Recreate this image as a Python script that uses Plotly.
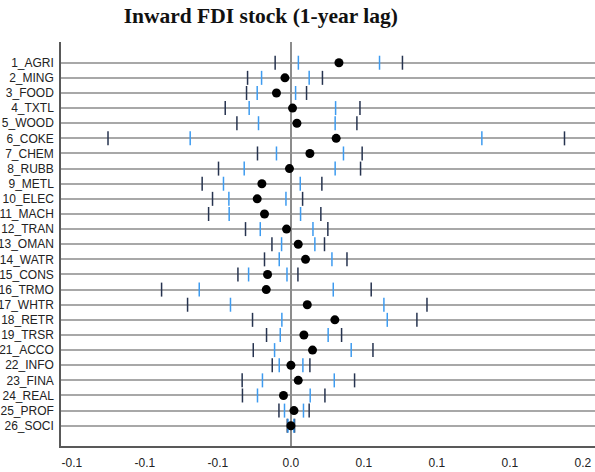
import plotly.graph_objects as go

categories = ["1_AGRI", "2_MING", "3_FOOD", "4_TXTL", "5_WOOD", "6_COKE", "7_CHEM", "8_RUBB",
              "9_METL", "10_ELEC", "11_MACH", "12_TRAN", "13_OMAN", "14_WATR", "15_CONS",
              "16_TRMO", "17_WHTR", "18_RETR", "19_TRSR", "21_ACCO", "22_INFO", "23_FINA",
              "24_REAL", "25_PROF", "26_SOCI"]
estimate = [0.0329, -0.0041, -0.0099, 0.0011, 0.0041, 0.0310, 0.0130, -0.0010,
            -0.0199, -0.0231, -0.0181, -0.0030, 0.0050, 0.0100, -0.0160,
            -0.0169, 0.0112, 0.0301, 0.0089, 0.0148, 0.0000, 0.0050,
            -0.0051, 0.0021, 0.0000]
ci90_low = [0.0051, -0.0201, -0.0231, -0.0286, -0.0222, -0.0690, -0.0099, -0.0320,
            -0.0462, -0.0425, -0.0423, -0.0210, -0.0064, -0.0080, -0.0290,
            -0.0628, -0.0414, -0.0062, -0.0073, -0.0112, -0.0080, -0.0195,
            -0.0229, -0.0044, -0.0020]
ci90_high = [0.0607, 0.0125, 0.0032, 0.0306, 0.0303, 0.1308, 0.0360, 0.0303,
             0.0064, -0.0034, 0.0066, 0.0151, 0.0164, 0.0281, -0.0027,
             0.0290, 0.0637, 0.0660, 0.0255, 0.0413, 0.0082, 0.0297,
             0.0132, 0.0086, 0.0020]
ci95_low = [-0.0108, -0.0297, -0.0304, -0.0450, -0.0370, -0.1253, -0.0229, -0.0496,
            -0.0608, -0.0537, -0.0564, -0.0311, -0.0130, -0.0181, -0.0363,
            -0.0886, -0.0708, -0.0263, -0.0167, -0.0258, -0.0128, -0.0334,
            -0.0332, -0.0082, -0.0025]
ci95_high = [0.0764, 0.0216, 0.0107, 0.0473, 0.0452, 0.1874, 0.0488, 0.0477,
             0.0212, 0.0080, 0.0205, 0.0253, 0.0230, 0.0384, 0.0048,
             0.0550, 0.0932, 0.0863, 0.0347, 0.0562, 0.0130, 0.0436,
             0.0233, 0.0125, 0.0025]
x_tickvals = [-0.15, -0.10, -0.05, 0.0, 0.05, 0.10, 0.15, 0.20]
x_ticktext = ["-0.1", "-0.1", "-0.1", "0.0", "0.1", "0.1", "0.1", "0.2"]

rows = list(range(len(categories)))
dark = "#26334F"
blue = "#3D9BF0"

fig = go.Figure()
tick_marker_dark = dict(symbol="line-ns", size=10, line=dict(color=dark, width=1.5))
tick_marker_blue = dict(symbol="line-ns", size=10, line=dict(color=blue, width=1.5))
fig.add_trace(go.Scatter(x=ci95_low, y=rows, mode="markers", marker=tick_marker_dark, hoverinfo="skip"))
fig.add_trace(go.Scatter(x=ci95_high, y=rows, mode="markers", marker=tick_marker_dark, hoverinfo="skip"))
fig.add_trace(go.Scatter(x=ci90_low, y=rows, mode="markers", marker=tick_marker_blue, hoverinfo="skip"))
fig.add_trace(go.Scatter(x=ci90_high, y=rows, mode="markers", marker=tick_marker_blue, hoverinfo="skip"))
fig.add_trace(go.Scatter(x=estimate, y=rows, mode="markers",
                         marker=dict(symbol="circle", size=9, color="black"),
                         customdata=categories, hovertemplate="%{customdata}: %{x:.3f}<extra></extra>"))

fig.update_layout(
    width=595, height=472,
    margin=dict(l=61, r=0, t=42, b=26),
    paper_bgcolor="white", plot_bgcolor="white",
    showlegend=False,
    title=dict(text="<b>Inward FDI stock (1-year lag)</b>", x=260.8 / 595, xanchor="center",
               y=1 - 15 / 472, yanchor="middle", automargin=False,
               font=dict(family="Liberation Serif", size=21.5, color="#111111")),
    font=dict(family="Liberation Sans", size=12, color="#222222"),
)
fig.update_xaxes(
    range=[-0.1575, 0.2083], tickvals=x_tickvals, ticktext=x_ticktext, automargin=False,
    showgrid=False, zeroline=True, zerolinecolor="#8C8C8C", zerolinewidth=2,
    showline=True, linecolor="#595959", linewidth=1.5, ticks="", ticklabelstandoff=5,
)
fig.update_yaxes(
    range=[25.34, -1.37], tickvals=rows, ticktext=categories, automargin=False,
    showgrid=True, gridcolor="#A8A8A8", gridwidth=1.5, zeroline=False,
    showline=True, linecolor="#595959", linewidth=1.5, ticks="", ticklabelstandoff=3,
)
fig.write_html("out.html", config={"displayModeBar": False},
               post_script="document.body.style.margin='0';document.body.style.overflow='hidden';")
